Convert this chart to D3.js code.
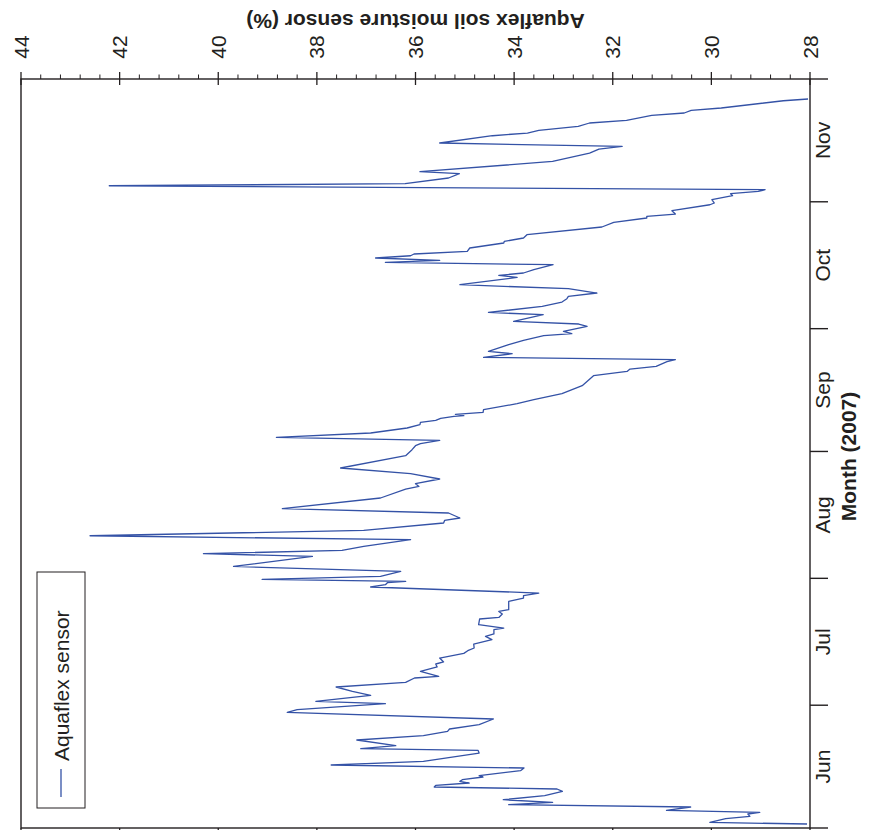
<!DOCTYPE html>
<html>
<head>
<meta charset="utf-8">
<script src="https://cdn.jsdelivr.net/npm/d3@7"></script>
<style>
  html, body { margin: 0; padding: 0; background: #fff; }
  svg { display: block; }
  text { font-family: "Liberation Sans", Arial, sans-serif; fill: #231f20; }
</style>
</head>
<body>
<svg id="chart" width="869" height="830"></svg>
<script>
// ---- data (days after 1 June 2007, soil moisture %) ----
const dayOffsets = [
  0.98, 1.37, 2.27, 2.83, 3.42, 3.81, 4.30, 5.13, 5.69, 6.25,
  6.91, 7.89, 8.94, 9.53, 10.02, 10.41, 10.99, 11.39, 11.80, 12.46,
  12.78, 14.00, 14.66, 15.39, 16.27, 18.32, 18.96, 19.37, 20.11, 21.50,
  22.55, 23.60, 24.19, 25.24, 26.63, 28.24, 28.90, 30.37, 30.93, 32.40,
  33.37, 34.45, 35.57, 36.65, 37.04, 38.26, 39.34, 40.07, 40.56, 41.53,
  42.66, 43.32, 43.98, 44.95, 46.01, 46.81, 47.40, 48.45, 48.86, 49.67,
  51.06, 51.45, 52.28, 52.92, 53.34, 55.36, 56.19, 56.76, 57.41, 58.88,
  59.44, 59.93, 60.25, 60.74, 61.47, 62.69, 63.91, 66.36, 67.02, 67.82,
  68.80, 70.44, 71.41, 72.71, 74.52, 75.15, 75.74, 76.96, 78.01, 80.63,
  82.82, 83.46, 84.12, 85.27, 86.56, 87.96, 90.96, 92.43, 93.40, 93.89,
  94.70, 95.43, 96.51, 97.73, 98.53, 99.10, 99.59, 100.07, 100.56, 100.73,
  101.05, 101.54, 102.20, 103.67, 104.64, 106.11, 108.06, 110.51, 111.56, 112.14,
  112.78, 113.93, 114.42, 114.98, 115.88, 116.44, 118.08, 119.13, 120.28, 120.77,
  121.33, 122.55, 123.14, 123.77, 125.41, 125.97, 127.44, 128.51, 129.32, 129.88,
  130.71, 131.76, 132.74, 134.52, 135.01, 135.60, 136.40, 137.63, 138.19, 138.67,
  139.26, 139.82, 140.24, 140.88, 141.71, 142.93, 143.32, 144.15, 144.96, 146.84,
  147.96, 149.04, 149.43, 150.01, 150.82, 152.28, 152.70, 153.51, 154.48, 154.97,
  155.53, 155.95, 156.92, 157.42, 158.81, 159.86, 160.35, 162.86, 164.91, 165.89,
  166.53, 167.36, 169.14, 169.80, 170.44, 171.42, 172.25, 172.88, 174.11, 174.69,
  175.33, 175.91, 177.69, 178.11
];
const moisture = [
  28.06, 30.03, 29.71, 29.22, 29.26, 29.02, 30.91, 30.42, 34.11, 33.22,
  34.22, 33.38, 33.02, 33.13, 35.62, 35.59, 34.91, 35.10, 35.05, 34.63,
  34.71, 33.87, 33.80, 37.71, 35.84, 34.71, 34.73, 37.11, 36.40, 37.19,
  35.84, 35.35, 35.31, 34.71, 34.42, 38.60, 38.40, 36.61, 38.02, 36.91,
  37.28, 37.61, 36.20, 36.02, 35.53, 35.90, 35.56, 35.59, 35.43, 35.51,
  35.02, 34.94, 34.81, 34.82, 34.45, 34.58, 34.41, 34.41, 34.21, 34.72,
  34.70, 34.31, 34.24, 34.31, 34.11, 34.11, 33.81, 33.81, 33.50, 36.91,
  36.61, 36.57, 36.20, 39.11, 36.71, 36.30, 39.69, 38.09, 40.30, 37.49,
  37.05, 36.10, 42.60, 37.05, 35.43, 35.41, 35.10, 35.33, 38.70, 36.71,
  36.20, 35.93, 36.00, 35.51, 36.10, 37.52, 36.20, 36.07, 36.00, 35.90,
  35.51, 38.82, 36.91, 36.17, 35.91, 35.90, 35.59, 35.49, 35.22, 35.02,
  35.19, 34.63, 34.62, 33.94, 33.60, 33.03, 32.62, 32.39, 31.71, 31.65,
  31.12, 30.90, 30.73, 34.62, 34.04, 34.52, 34.11, 33.81, 33.40, 32.83,
  33.00, 32.52, 32.69, 34.01, 33.41, 34.52, 33.43, 33.03, 32.93, 32.90,
  32.32, 32.90, 35.10, 33.94, 34.31, 33.81, 33.60, 33.21, 36.61, 35.51,
  36.81, 36.10, 36.03, 34.95, 34.90, 34.21, 34.20, 33.81, 33.74, 32.22,
  31.98, 31.31, 31.31, 30.73, 30.80, 30.03, 29.94, 29.99, 29.57, 29.61,
  29.05, 28.91, 42.21, 36.21, 35.33, 35.11, 35.91, 33.22, 32.47, 32.28,
  31.81, 35.51, 34.44, 33.73, 33.50, 32.70, 32.47, 31.72, 31.21, 30.55,
  30.41, 29.80, 28.54, 28.04
];
const valueTicks = [44, 42, 40, 38, 36, 34, 32, 30, 28];
const monthTicks = ["2007-06-01", "2007-07-01", "2007-08-01", "2007-09-01", "2007-10-01", "2007-11-01", "2007-12-01"];
const monthLabels = ["Jun", "Jul", "Aug", "Sep", "Oct", "Nov"];
const seriesName = "Aquaflex sensor";
const valueTitle = "Aquaflex soil moisture sensor (%)";
const timeTitle = "Month (2007)";

// ---- layout ----
const L = 21, R = 810, T = 79, B = 828;
const ink = "#231f20";
const lineColor = "#3452a6";
const start = new Date(2007, 5, 1);
const parse = d3.timeParse("%Y-%m-%d");

const data = dayOffsets.map((d, i) => ({ t: new Date(start.getTime() + d * 864e5), v: moisture[i] }));

const x = d3.scaleLinear().domain([44, 28]).range([L, R]);
const y = d3.scaleTime().domain([new Date(2007, 5, 1), new Date(2007, 11, 1)]).range([B, T]);

const svg = d3.select("#chart");

svg.append("defs").append("clipPath").attr("id", "plotclip")
  .append("rect").attr("x", L).attr("y", T).attr("width", R - L).attr("height", B - T);

// data line
svg.append("path")
  .datum(data)
  .attr("clip-path", "url(#plotclip)")
  .attr("fill", "none")
  .attr("stroke", lineColor)
  .attr("stroke-width", 1.3)
  .attr("stroke-linejoin", "round")
  .attr("d", d3.line().x(d => x(d.v)).y(d => y(d.t)));

// frame
svg.append("rect").attr("x", L).attr("y", T).attr("width", R - L).attr("height", B - T)
  .attr("fill", "none").attr("stroke", ink).attr("stroke-width", 1.4);

// value axis (top): minor ticks
const minor = d3.range(0, 41).map(i => 28 + i * 0.4).filter(v => Math.abs(v / 2 - Math.round(v / 2)) > 1e-6);
svg.append("g").selectAll("line").data(minor).join("line")
  .attr("x1", d => x(d)).attr("x2", d => x(d))
  .attr("y1", T - 4.5).attr("y2", T)
  .attr("stroke", ink).attr("stroke-width", 1);
// major ticks
svg.append("g").selectAll("line").data(valueTicks).join("line")
  .attr("x1", d => x(d)).attr("x2", d => x(d))
  .attr("y1", T - 7).attr("y2", T + 6)
  .attr("stroke", ink).attr("stroke-width", 1.3);
svg.append("g").selectAll("line").data(valueTicks).join("line")
  .attr("x1", d => x(d)).attr("x2", d => x(d))
  .attr("y1", B).attr("y2", B + 6)
  .attr("stroke", ink).attr("stroke-width", 1.3);
// labels
svg.append("g").selectAll("text").data(valueTicks).join("text")
  .attr("transform", d => `translate(${x(d)},47) rotate(-90)`)
  .attr("text-anchor", "middle")
  .attr("dominant-baseline", "central")
  .style("font-size", "21px")
  .text(d => d);

// value axis title (upside down)
svg.append("text")
  .attr("transform", `translate(${(L + R) / 2},21) rotate(180)`)
  .attr("text-anchor", "middle")
  .attr("dominant-baseline", "central")
  .style("font-size", "21px").style("font-weight", "bold")
  .text(valueTitle);

// month axis (right)
const mt = monthTicks.map(parse);
svg.append("g").selectAll("line").data(mt).join("line")
  .attr("x1", R).attr("x2", R + 18)
  .attr("y1", d => y(d)).attr("y2", d => y(d))
  .attr("stroke", ink).attr("stroke-width", 1.4);
svg.append("g").selectAll("text").data(monthLabels).join("text")
  .attr("transform", (d, i) => `translate(${R + 12},${(y(mt[i]) + y(mt[i + 1])) / 2}) rotate(-90)`)
  .attr("text-anchor", "middle")
  .attr("dominant-baseline", "central")
  .style("font-size", "21px")
  .text(d => d);
svg.append("text")
  .attr("transform", `translate(848,${(T + B) / 2 + 3}) rotate(-90)`)
  .attr("text-anchor", "middle")
  .attr("dominant-baseline", "central")
  .style("font-size", "21px").style("font-weight", "bold")
  .text(timeTitle);

// legend
const lg = svg.append("g");
lg.append("rect").attr("x", 37).attr("y", 572).attr("width", 48).attr("height", 236)
  .attr("fill", "#fff").attr("stroke", ink).attr("stroke-width", 1);
lg.append("line").attr("x1", 61).attr("x2", 61).attr("y1", 769).attr("y2", 797)
  .attr("stroke", lineColor).attr("stroke-width", 1.3);
lg.append("text")
  .attr("transform", "translate(61,761) rotate(-90)")
  .attr("text-anchor", "start")
  .attr("dominant-baseline", "central")
  .style("font-size", "21px")
  .text(seriesName);
</script>
</body>
</html>
